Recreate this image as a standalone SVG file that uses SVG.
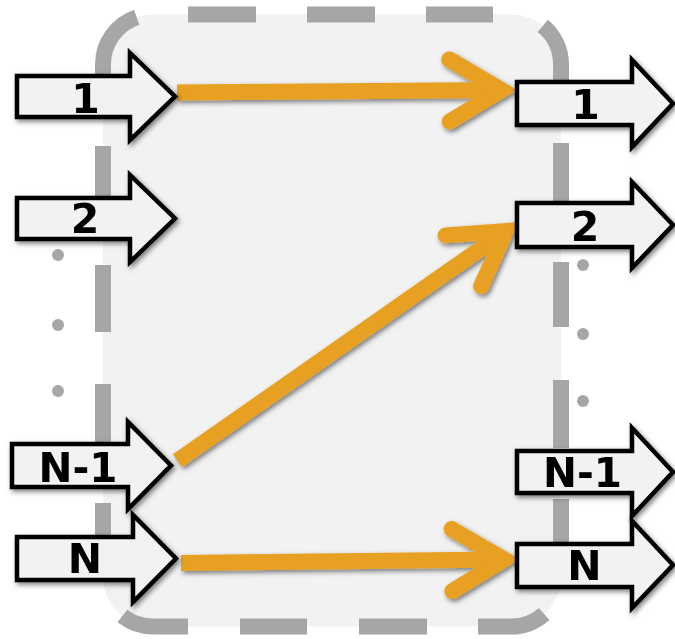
<svg xmlns="http://www.w3.org/2000/svg" width="675" height="639" viewBox="0 0 675 639">
<style>
.frame{fill:#f2f2f2;stroke:none}
.dash{fill:none;stroke:#a6a6a6;stroke-width:16;stroke-linecap:butt}
.dot{fill:#a6a6a6}
.conn{fill:none;stroke:#e8a023;stroke-width:16;stroke-linecap:butt}
.blk{fill:#f2f2f2;stroke:#000;stroke-width:4.5;stroke-linejoin:miter}
.lbl{font-family:"DejaVu Sans","Liberation Sans",sans-serif;font-weight:bold;font-size:41px;fill:#000;text-anchor:middle}
</style>
<defs>
<filter id="sh" x="-20%" y="-20%" width="140%" height="140%">
<feDropShadow dx="2" dy="2.5" stdDeviation="2.5" flood-color="#000" flood-opacity="0.5"/>
</filter>
<marker id="chev" markerUnits="userSpaceOnUse" orient="auto" refX="0" refY="0" markerWidth="80" markerHeight="80" overflow="visible">
<path d="M-52,-31 L0,0 L-52,31" fill="none" stroke="#e8a023" stroke-width="16" stroke-linecap="round" stroke-linejoin="miter"/>
</marker>
</defs>
<g id="container">
<rect class="frame" x="103" y="14.5" width="458" height="612" rx="50" ry="50"/>
<path class="dash" d="M188,14.5 H256 M307,14.5 H375 M426,14.5 H493 M542.8,25.9 A50,50 0 0 1 561,64.5 V100 M561,143 V211 M561,262 V327 M561,380 V448 M561,499 V567 M544.2,613.9 A50,50 0 0 1 511,626.5 H478 M427,626.5 H359 M307,626.5 H240 M188,626.5 H153 A50,50 0 0 1 122.4,616 M103,571 V503 M103,452 V384 M103,332 V265 M103,214 V146 M103,100 V64.5 A50,50 0 0 1 136.7,17.2"/>
</g>
<g id="ellipsis">
<circle class="dot" cx="58" cy="255" r="6"/>
<circle class="dot" cx="58" cy="325" r="6"/>
<circle class="dot" cx="58" cy="391" r="6"/>
<circle class="dot" cx="583" cy="265" r="6"/>
<circle class="dot" cx="583" cy="334" r="6"/>
<circle class="dot" cx="583" cy="401" r="6"/>
</g>
<g id="connectors" filter="url(#sh)">
<path class="conn" d="M177,92.5 L501.5,90.1" marker-end="url(#chev)"/>
<path class="conn" d="M177.5,460.7 L506,231" marker-end="url(#chev)"/>
<path class="conn" d="M181,563 L504,559.5" marker-end="url(#chev)"/>
</g>
<g id="in1" filter="url(#sh)">
<path class="blk" d="M17,76 H130 V53 L175,96.5 L130,140 V117 H17 Z"/>
<text class="lbl" x="85.5" y="113">1</text>
</g>
<g id="in2" filter="url(#sh)">
<path class="blk" d="M17,198 H130 V175 L175,218.5 L130,262 V239 H17 Z"/>
<text class="lbl" x="85" y="233">2</text>
</g>
<g id="inN1" filter="url(#sh)">
<path class="blk" d="M12,444 H128 V422 L171,465.5 L128,509 V487 H12 Z"/>
<text class="lbl" x="78" y="482" textLength="79" lengthAdjust="spacingAndGlyphs">N-1</text>
</g>
<g id="inN" filter="url(#sh)">
<path class="blk" d="M17,537 H133 V515 L176,558.5 L133,602 V580 H17 Z"/>
<text class="lbl" x="85" y="573">N</text>
</g>
<g id="out1" filter="url(#sh)">
<path class="blk" d="M517,82 H632 V60 L673,103.5 L632,147 V125 H517 Z"/>
<text class="lbl" x="585.5" y="119">1</text>
</g>
<g id="out2" filter="url(#sh)">
<path class="blk" d="M517,203 H632 V182 L673,225 L632,268 V247 H517 Z"/>
<text class="lbl" x="585" y="241">2</text>
</g>
<g id="outN1" filter="url(#sh)">
<path class="blk" d="M517,451 H632 V428 L673,472 L632,516 V493 H517 Z"/>
<text class="lbl" x="582.5" y="487" textLength="79" lengthAdjust="spacingAndGlyphs">N-1</text>
</g>
<g id="outN" filter="url(#sh)">
<path class="blk" d="M517,544 H632 V521 L673,565 L632,608 V587 H517 Z"/>
<text class="lbl" x="584.5" y="580">N</text>
</g>
</svg>
